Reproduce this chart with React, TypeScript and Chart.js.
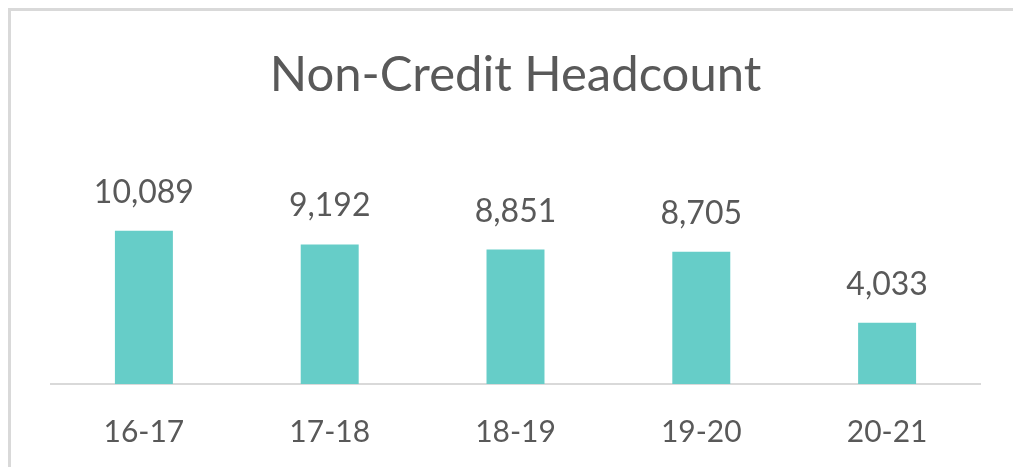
import React, { useEffect, useRef } from "react";
import { Chart, registerables } from "chart.js";

Chart.register(...registerables);

const categories = ["16-17", "17-18", "18-19", "19-20", "20-21"];
const headcount = [10089, 9192, 8851, 8705, 4033];
const chartTitle = "Non-Credit Headcount";

const FONT = "Lato";
const TEXT = "#595959";
const BAR = "#66CDC8";
const AXIS = "#D9D9D9";

const dataLabels = {
  id: "dataLabels",
  afterDatasetsDraw(chart: any) {
    const ctx = chart.ctx;
    const meta = chart.getDatasetMeta(0);
    ctx.save();
    ctx.font = `32px ${FONT}`;
    ctx.fillStyle = TEXT;
    ctx.textAlign = "center";
    ctx.textBaseline = "alphabetic";
    meta.data.forEach((bar: any, i: number) => {
      const v = chart.data.datasets[0].data[i] as number;
      ctx.fillText(v.toLocaleString("en-US"), bar.x, bar.y - 28);
    });
    ctx.restore();
  },
};

export default function App() {
  const ref = useRef<HTMLCanvasElement | null>(null);
  useEffect(() => {
    if (!ref.current) return;
    const chart = new Chart(ref.current, {
      type: "bar",
      data: {
        labels: categories,
        datasets: [
          {
            data: headcount,
            backgroundColor: BAR,
            borderWidth: 0,
            barPercentage: 0.312,
            categoryPercentage: 1,
          },
        ],
      },
      options: {
        responsive: false,
        animation: false,
        layout: { padding: { left: 40, right: 33, top: 0, bottom: -13 } },
        plugins: {
          legend: { display: false },
          tooltip: { enabled: false },
          title: {
            display: true,
            text: chartTitle,
            color: TEXT,
            font: { family: FONT, size: 49, weight: "normal" },
            padding: { top: 35, bottom: 97 },
          },
        },
        scales: {
          x: {
            grid: { display: false, drawTicks: false },
            border: { display: true, color: AXIS, width: 2 },
            ticks: {
              color: TEXT,
              font: { family: FONT, size: 30 },
              padding: 30,
            },
          },
          y: {
            display: false,
            min: 0,
            max: 12000,
          },
        },
      },
      plugins: [dataLabels],
    });
    return () => chart.destroy();
  }, []);

  return (
    <div
      style={{
        position: "fixed",
        left: 8,
        top: 8,
        width: 1005,
        height: 459,
        boxSizing: "border-box",
        borderTop: `3px solid ${AXIS}`,
        borderLeft: `3px solid ${AXIS}`,
        background: "#fff",
      }}
    >
      <canvas ref={ref} width={1002} height={456} style={{ display: "block" }} />
    </div>
  );
}
